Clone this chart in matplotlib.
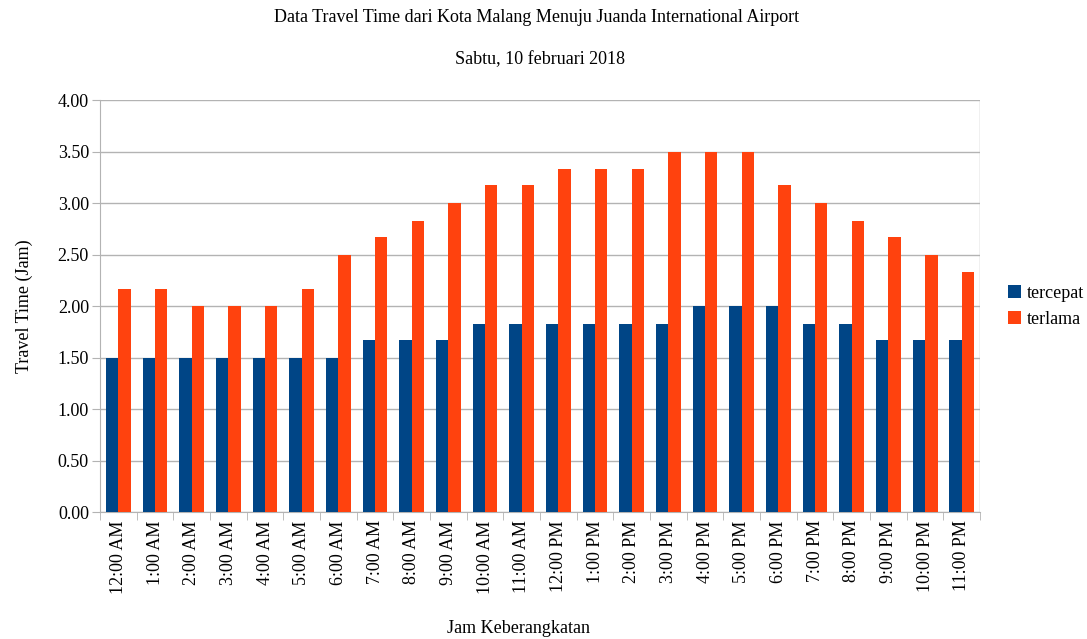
import matplotlib.pyplot as plt
import numpy as np

hours = [
    "12:00 AM", "1:00 AM", "2:00 AM", "3:00 AM", "4:00 AM", "5:00 AM",
    "6:00 AM", "7:00 AM", "8:00 AM", "9:00 AM", "10:00 AM", "11:00 AM",
    "12:00 PM", "1:00 PM", "2:00 PM", "3:00 PM", "4:00 PM", "5:00 PM",
    "6:00 PM", "7:00 PM", "8:00 PM", "9:00 PM", "10:00 PM", "11:00 PM",
]

tercepat = [
    1.50, 1.50, 1.50, 1.50, 1.50, 1.50,
    1.50, 1.67, 1.67, 1.67, 1.83, 1.83,
    1.83, 1.83, 1.83, 1.83, 2.00, 2.00,
    2.00, 1.83, 1.83, 1.67, 1.67, 1.67,
]

terlama = [
    2.17, 2.17, 2.00, 2.00, 2.00, 2.17,
    2.50, 2.67, 2.83, 3.00, 3.17, 3.17,
    3.33, 3.33, 3.33, 3.50, 3.50, 3.50,
    3.17, 3.00, 2.83, 2.67, 2.50, 2.33,
]

plt.rcParams["font.family"] = ["Liberation Serif", "DejaVu Serif"]
fs = 13

fig = plt.figure(figsize=(10.87, 6.39), dpi=100)
ax = fig.add_axes([0.092, 0.1987, 0.8096, 0.6448])

x = np.arange(len(hours))
w = 0.34
ax.bar(x - w / 2, tercepat, w, color="#004586", label="tercepat", zorder=3)
ax.bar(x + w / 2, terlama, w, color="#ff420e", label="terlama", zorder=3)

ax.set_xlim(-0.5, len(hours) - 0.5)
ax.set_ylim(0, 4)
ax.set_yticks(np.arange(0, 4.01, 0.5))
ax.set_yticklabels([f"{v:.2f}" for v in np.arange(0, 4.01, 0.5)], fontsize=fs)
ax.set_xticks(x)
ax.set_xticklabels(hours, rotation=90, fontsize=fs)
ax.set_xticks(np.arange(-0.5, len(hours), 1), minor=True)
ax.tick_params(axis="x", which="major", length=0, pad=6)
ax.tick_params(axis="x", which="minor", length=6, color="#b3b3b3")
ax.tick_params(axis="y", length=6, color="#b3b3b3", pad=2)

ax.grid(axis="y", color="#b3b3b3", linewidth=1, zorder=0)
for side in ["top", "right"]:
    ax.spines[side].set_visible(False)
for side in ["left", "bottom"]:
    ax.spines[side].set_color("#b3b3b3")
ax.axvline(len(hours) - 0.5, color="#b3b3b3", linewidth=1, zorder=0)

ax.set_ylabel("Travel Time (Jam)", fontsize=fs, labelpad=18)
fig.text(0.477, 0.017, "Jam Keberangkatan", fontsize=fs, ha="center", va="center")
fig.text(0.494, 0.972, "Data Travel Time dari Kota Malang Menuju Juanda International Airport",
         fontsize=fs, ha="center", va="center")
fig.text(0.497, 0.906, "Sabtu, 10 februari 2018", fontsize=fs, ha="center", va="center")

ax.legend(loc="center left", bbox_to_anchor=(1.022, 0.5), frameon=False, fontsize=fs,
          handlelength=0.7, handleheight=0.7, handletextpad=0.3, labelspacing=0.5,
          borderpad=0)

fig.savefig("out.png", dpi=100)
